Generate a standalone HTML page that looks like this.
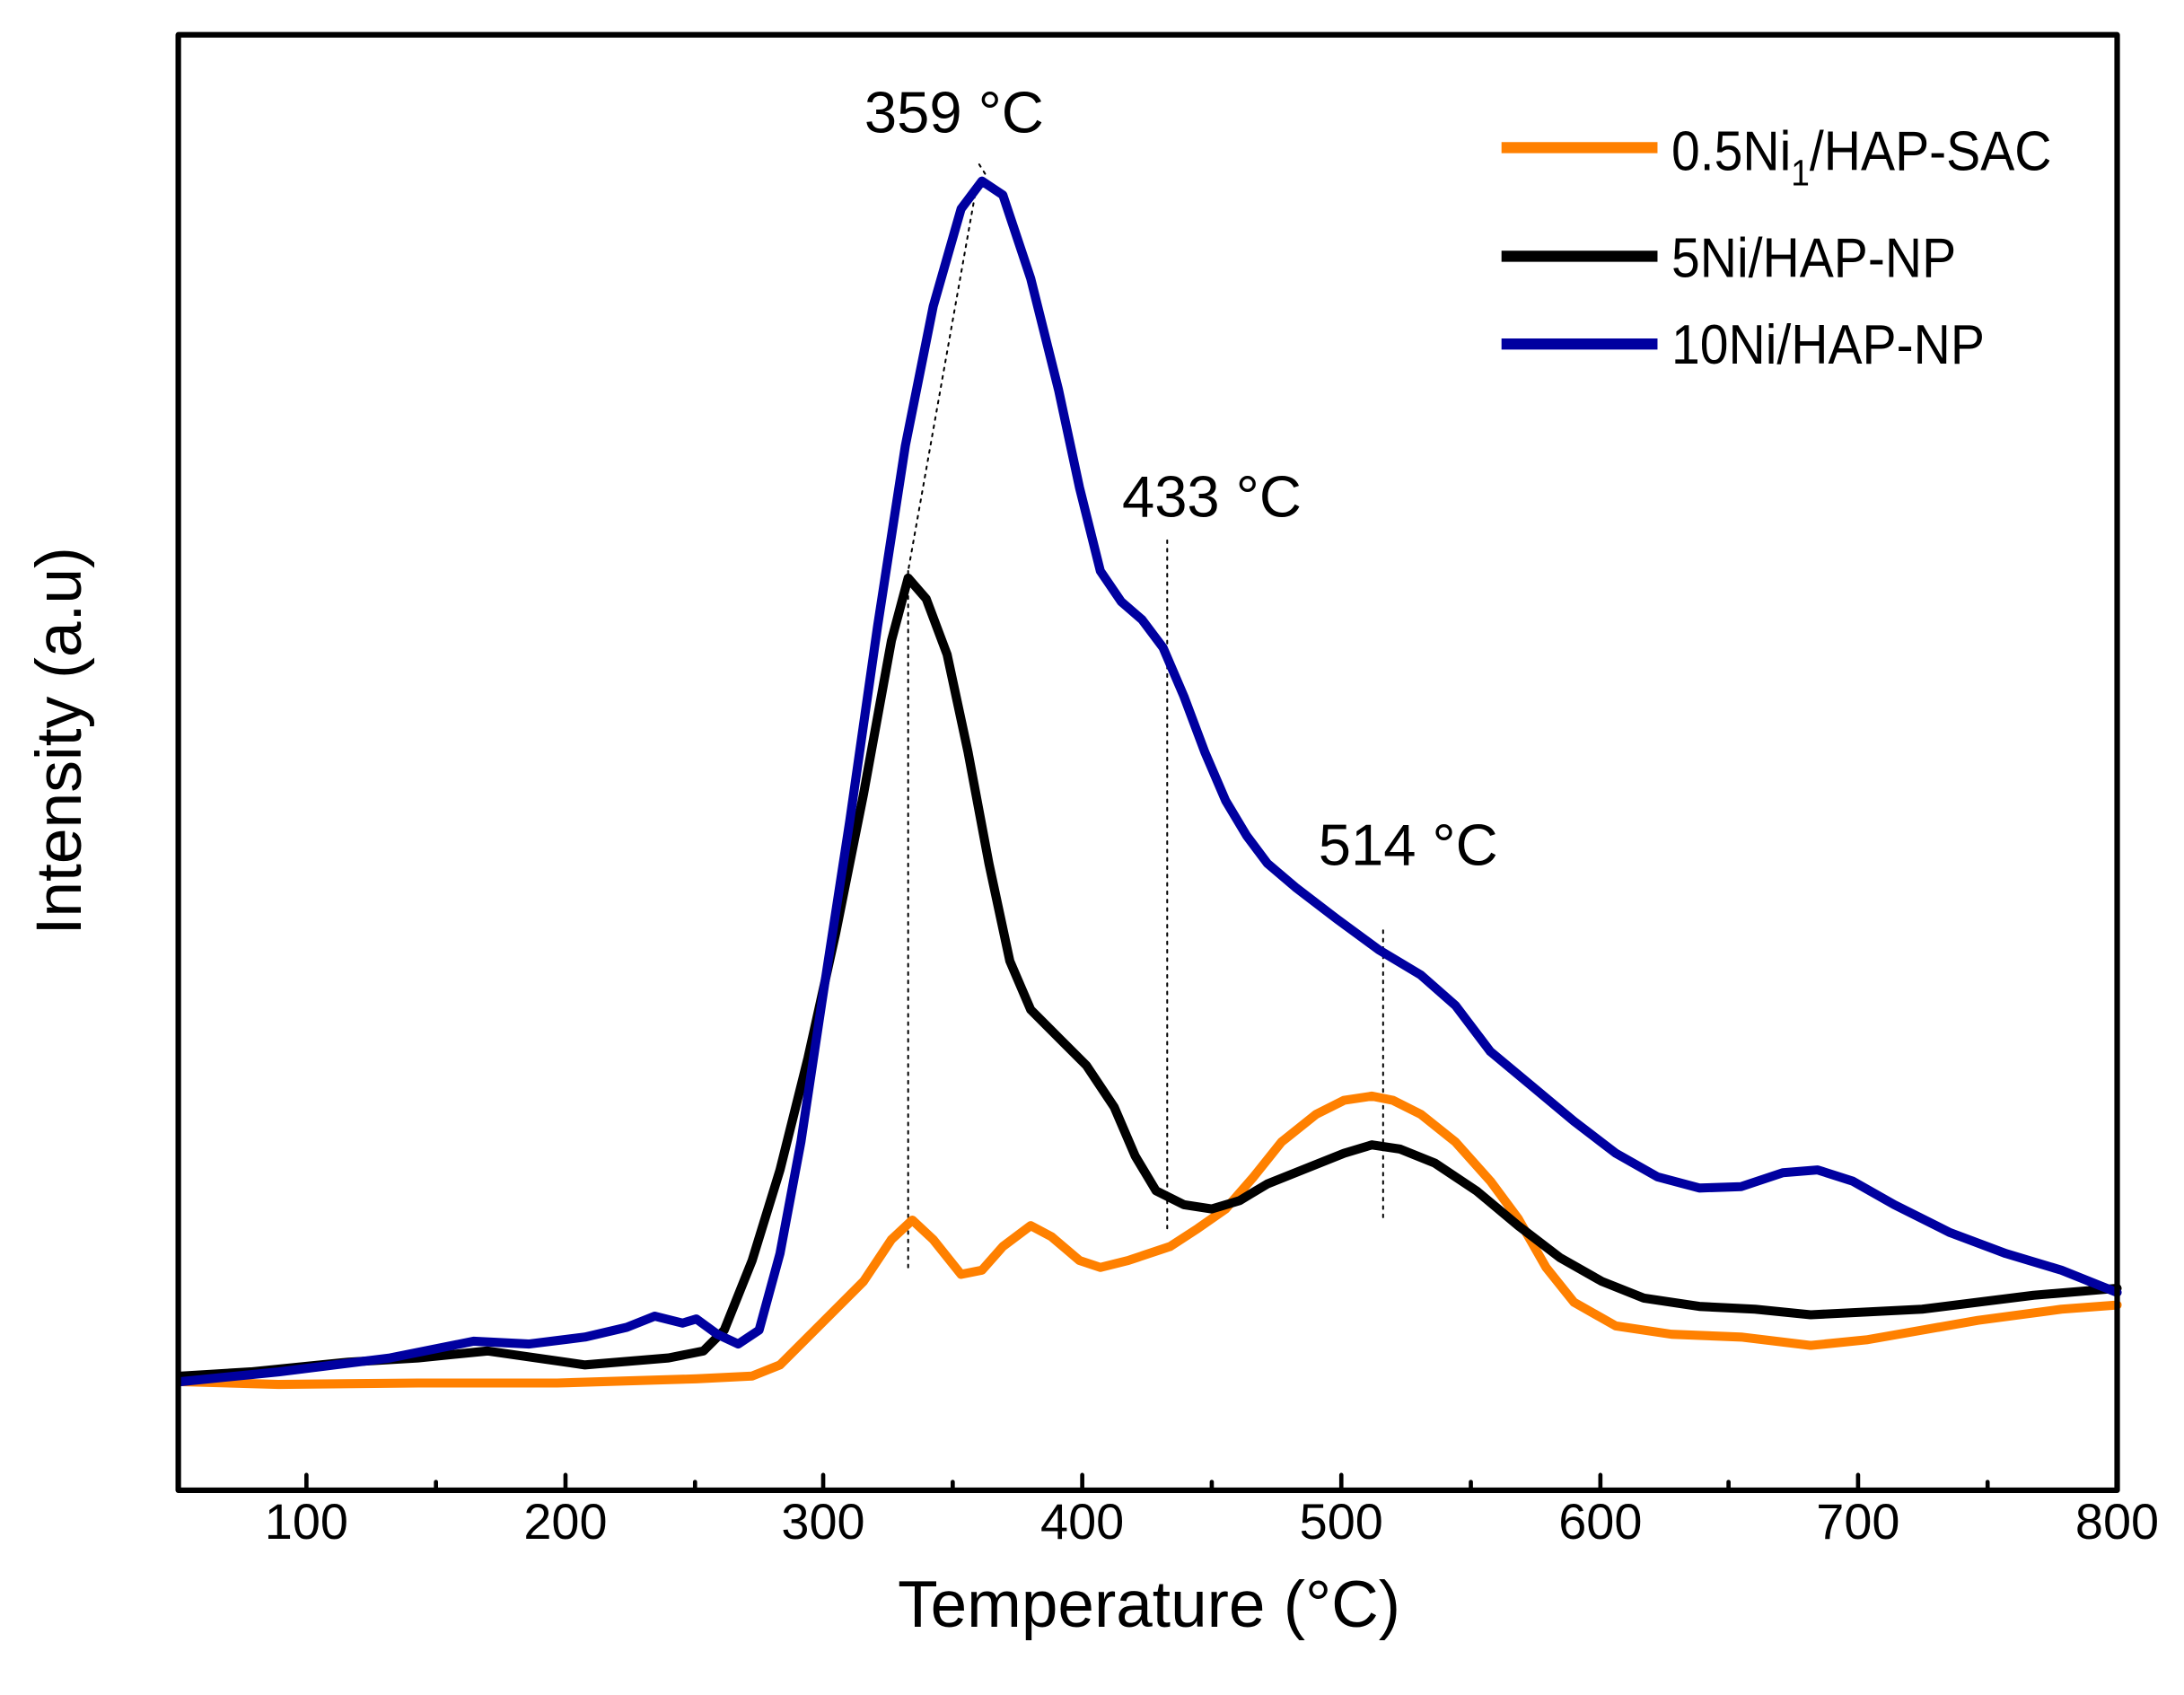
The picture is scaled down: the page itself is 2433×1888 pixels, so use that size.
<!DOCTYPE html>
<html><head><meta charset="utf-8"><style>
html,body{margin:0;padding:0;background:#fff;}
svg{display:block;}
text{font-family:"Liberation Sans",sans-serif;fill:#000;}
</style></head><body>
<svg width="2433" height="1888" viewBox="0 0 1568 1217" preserveAspectRatio="none" xmlns="http://www.w3.org/2000/svg">
<rect x="0" y="0" width="1568" height="1217" fill="#fff"/>
<g fill="none" stroke-linejoin="round" stroke-linecap="round">
<g stroke="#000" stroke-width="1.3" stroke-dasharray="2,4">
<line x1="652" y1="410" x2="652" y2="910"/>
<line x1="838" y1="388" x2="838" y2="885"/>
<line x1="993" y1="668" x2="993" y2="876"/>
<line x1="700" y1="140" x2="652" y2="410"/>
<line x1="703" y1="118" x2="708" y2="126"/>
</g>
<polyline stroke="#ff8000" stroke-width="6.5" points="130,992 200,994 300,993 400,993 500,990 540,988 560,980 590,950 620,920 640,890 655,876 670,890 690,915 705,912 720,895 740,880 755,888 775,905 790,910 810,905 840,895 860,882 880,868 900,845 920,820 945,800 965,790 985,787 1000,790 1020,800 1045,820 1070,848 1090,875 1110,910 1130,935 1160,952 1200,958 1250,960 1300,966 1340,962 1380,955 1420,948 1480,940 1520,937"/>
<polyline stroke="#000" stroke-width="6.5" points="130,988 180,985 250,978 300,975 350,970 420,980 480,975 505,970 520,955 540,905 560,840 580,760 600,670 620,570 640,460 652,415 665,430 680,470 695,540 710,620 725,690 740,725 760,745 780,765 800,795 815,830 830,855 850,865 870,868 890,862 910,850 940,838 965,828 985,822 1005,825 1030,835 1060,855 1090,880 1120,903 1150,920 1180,932 1220,938 1260,940 1300,944 1340,942 1380,940 1420,935 1460,930 1520,925"/>
<polyline stroke="#0000a0" stroke-width="6.5" points="130,992 200,985 280,975 340,963 380,965 420,960 450,953 470,945 490,950 500,947 515,958 530,965 545,955 560,900 575,820 590,720 610,590 630,450 650,320 670,220 690,150 705,130 720,140 740,200 760,280 775,350 790,410 805,432 820,445 835,465 850,500 865,540 880,575 895,600 910,620 930,637 960,660 990,682 1020,700 1045,722 1070,755 1100,780 1130,805 1160,828 1190,845 1220,853 1250,852 1280,842 1305,840 1330,848 1360,865 1400,885 1440,900 1480,912 1520,928"/>
<rect x="128" y="25" width="1392" height="1045" stroke="#000" stroke-width="4"/>
<g stroke="#000" stroke-width="3">
<path d="M220,1070v-11M406,1070v-11M591,1070v-11M777,1070v-11M963,1070v-11M1149,1070v-11M1334,1070v-11M1520,1070v-11"/>
<path d="M313,1070v-6M499,1070v-6M684,1070v-6M870,1070v-6M1056,1070v-6M1241,1070v-6M1427,1070v-6"/>
</g>
<line x1="1078" y1="106" x2="1190" y2="106" stroke="#ff8000" stroke-width="8" stroke-linecap="butt"/>
<line x1="1078" y1="184" x2="1190" y2="184" stroke="#000" stroke-width="8" stroke-linecap="butt"/>
<line x1="1078" y1="247" x2="1190" y2="247" stroke="#0000a0" stroke-width="8" stroke-linecap="butt"/>
</g>
<g font-size="36" text-anchor="middle">
<text x="220" y="1105">100</text><text x="406" y="1105">200</text><text x="591" y="1105">300</text><text x="777" y="1105">400</text><text x="963" y="1105">500</text><text x="1149" y="1105">600</text><text x="1334" y="1105">700</text><text x="1520" y="1105">800</text>
</g>
<text x="825" y="1168" font-size="47" text-anchor="middle">Temperature (°C)</text>
<text transform="translate(58,532) rotate(-90)" font-size="46" text-anchor="middle">Intensity (a.u)</text>
<g font-size="42" text-anchor="middle">
<text x="685" y="95">359 °C</text>
<text x="870" y="371">433 °C</text>
<text x="1011" y="621">514 °C</text>
</g>
<g font-size="40" transform="translate(1200,0) scale(0.92,1)">
<text x="0" y="122">0.5Ni<tspan font-size="26" dy="11">1</tspan><tspan dy="-11">/HAP-SAC</tspan></text>
<text x="0" y="199">5Ni/HAP-NP</text>
<text x="0" y="261">10Ni/HAP-NP</text>
</g>
</svg>
</body></html>
